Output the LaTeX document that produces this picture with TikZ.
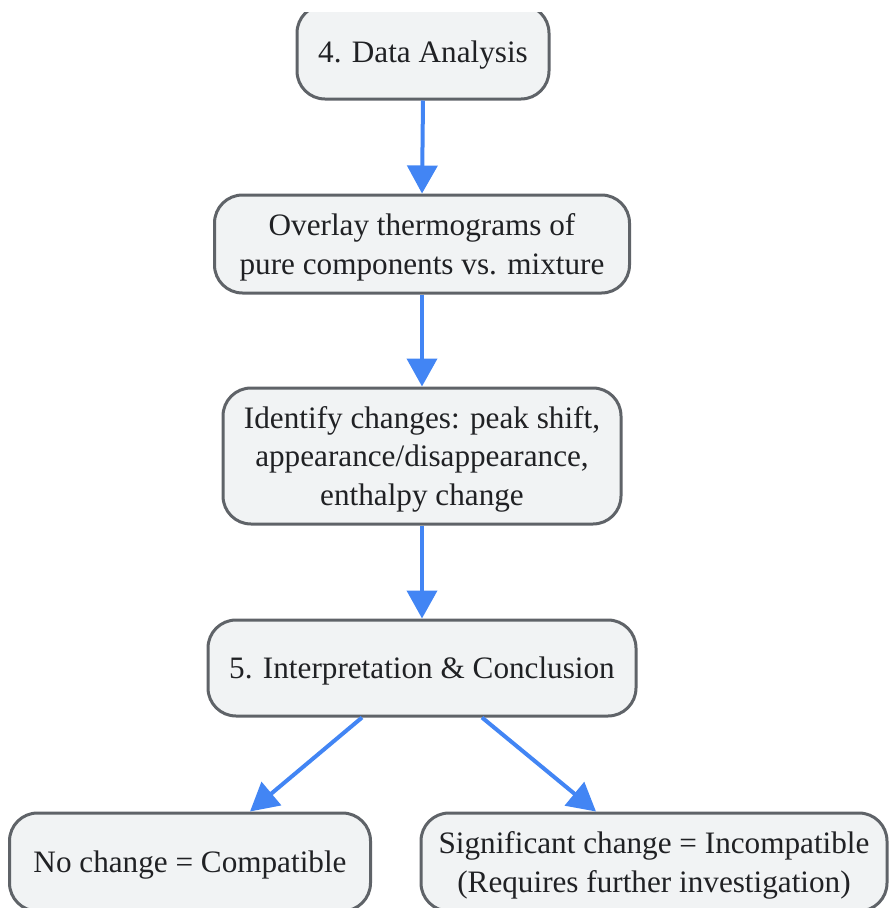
\documentclass[tikz,border=0pt]{standalone}
\usepackage{fontspec}
\setmainfont{Liberation Serif}
\usetikzlibrary{arrows.meta}
\definecolor{boxline}{RGB}{95, 99, 104}
\definecolor{boxfill}{RGB}{241, 243, 244}
\definecolor{flow}{RGB}{66, 133, 244}
\definecolor{ink}{RGB}{32, 33, 36}

\tikzset{
  stepbox/.style={draw=boxline, fill=boxfill, line width=3pt, rounded corners=28pt,
    text=ink, align=center, inner sep=0pt, text depth=0pt,
    font=\fontsize{31.2}{38.5}\selectfont},
  flowarrow/.style={draw=flow, line width=4pt,
    -{Triangle[length=28pt, width=30pt]}}
}

\begin{document}
\begin{tikzpicture}[x=1pt, y=-1pt]
  \useasboundingbox (0, 0) rectangle (889, 908);
  \clip (0, 12) rectangle (889, 908);

  % Data analysis
  \node [stepbox, minimum width=252pt, minimum height=94pt] (analysis) at (423, 52)
    {4. Data Analysis};

  % Overlay
  \node [stepbox, minimum width=415pt, minimum height=98pt] (overlay) at (422, 244)
    {Overlay thermograms of\\pure components vs. mixture};

  % Identify
  \node [stepbox, minimum width=398pt, minimum height=136pt] (identify) at (422, 456)
    {Identify changes: peak shift,\\appearance/disappearance,\\enthalpy change};

  % Interpretation
  \node [stepbox, minimum width=428pt, minimum height=96pt] (interpret) at (422, 668)
    {5. Interpretation \& Conclusion};

  % Outcomes
  \node [stepbox, minimum width=361pt, minimum height=98pt] (compatible) at (190, 862)
    {No change = Compatible};
  \node [stepbox, minimum width=466pt, minimum height=98pt] (incompatible) at (654, 862)
    {Significant change = Incompatible\\(Requires further investigation)};

  % Arrows
  \draw [flowarrow] (analysis.south) -- (overlay.north);
  \draw [flowarrow] (overlay.south) -- (identify.north);
  \draw [flowarrow] (identify.south) -- (interpret.north);
  \draw [flowarrow] ([xshift=-60pt]interpret.south) -- ([xshift=60pt]compatible.north);
  \draw [flowarrow] ([xshift=60pt]interpret.south) -- ([xshift=-58pt]incompatible.north);

\end{tikzpicture}
\end{document}
